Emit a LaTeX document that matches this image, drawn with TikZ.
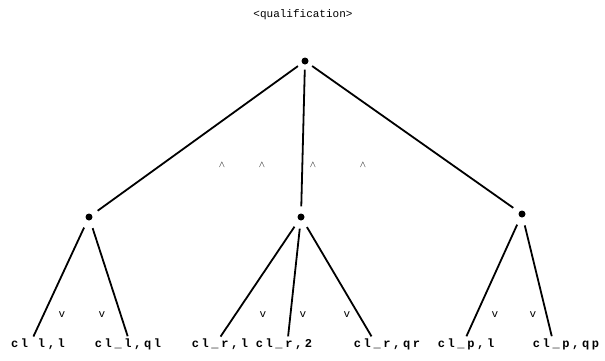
\documentclass[tikz,border=0pt]{standalone}
\usepackage{fontspec}
\setmonofont{Liberation Mono}
\newfontfamily\leaffont{Liberation Mono}[LetterSpace=22]
\usetikzlibrary{positioning}
\tikzset{
    dot/.style={circle, fill=black, inner sep=0pt, minimum size=7pt},
    title/.style={font=\ttfamily\fontsize{11}{12}\selectfont, inner sep=1pt},
    leaf/.style={font=\leaffont\bfseries\fontsize{12}{12}\selectfont, inner sep=1pt},
    branch/.style={line width=1.8pt, shorten <=5pt, shorten >=7pt},
    twig/.style={line width=1.8pt, shorten <=8pt, shorten >=1pt},
    sym/.style={font=\ttfamily\fontsize{11}{11}\selectfont, inner sep=0pt},
    conj/.style={font=\fontsize{9}{9}\selectfont, inner sep=0pt}
}
\begin{document}
\begin{tikzpicture}[x=1pt,y=-1pt]
  \useasboundingbox (0,0) rectangle (605,360);
  % heading
  \node[title] (head) at (303,15) {<qualification>};

  % inner nodes
  \node[dot] (root) at (305,61) {};
  \node[dot] (cl) at (89,217) {};
  \node[dot] (cr) at (301,217) {};
  \node[dot] (cp) at (522,214) {};

  % leaves
  \node[leaf] (l1) at (38,344) {cl l,l};
  \node[leaf] (l2) at (128,344) {cl\_l,ql};
  \node[leaf] (r1) at (220,344) {cl\_r,l};
  \node[leaf] (r2) at (284,344) {cl\_r,2};
  \node[leaf] (r3) at (387,344) {cl\_r,qr};
  \node[leaf] (p1) at (466,344) {cl\_p,l};
  \node[leaf] (p2) at (566,344) {cl\_p,qp};

  % upper branches
  \draw[branch] (root) -- (cl);
  \draw[branch] (root) -- (cr);
  \draw[branch] (root) -- (cp);

  % lower branches
  \draw[twig] (cl) -- ([xshift=-5pt]l1.north);
  \draw[twig] (cl) -- (l2.north);
  \draw[twig] (cr) -- (r1.north);
  \draw[twig] (cr) -- ([xshift=4pt]r2.north);
  \draw[twig] (cr) -- ([xshift=-15pt]r3.north);
  \draw[twig] (cp) -- (p1.north);
  \draw[twig] (cp) -- ([xshift=-14pt]p2.north);

  % connectives
  \foreach \x in {222,262,313,363}
    \node[conj] (and\x) at (\x,165) {$\wedge$};
  \foreach \x in {62,102,263,303,347,495,533}
    \node[sym] (or\x) at (\x,315) {v};
\end{tikzpicture}
\end{document}
